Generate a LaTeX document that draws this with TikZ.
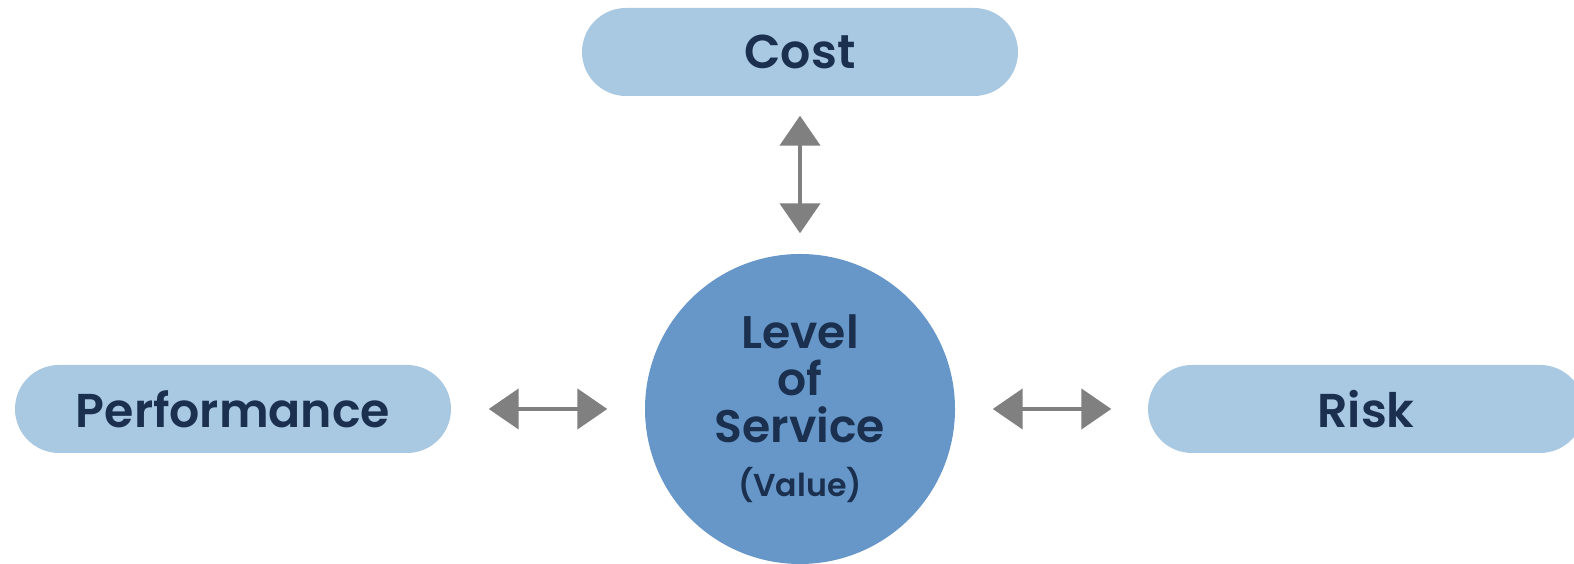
\documentclass[tikz,border=0pt]{standalone}
\usepackage{fontspec}
\setmainfont{Poppins}[BoldFont={Poppins SemiBold}]
\usetikzlibrary{arrows.meta}
\definecolor{pillblue}{HTML}{A9C8E2}
\definecolor{circblue}{HTML}{6697C8}
\definecolor{navy}{HTML}{1B2F4F}
\definecolor{arrgray}{HTML}{808080}

\begin{document}
\begin{tikzpicture}[
    pill/.style={rounded corners=0.44cm,fill=pillblue,minimum width=4.36cm,minimum height=0.88cm,
        text=navy,font=\fontsize{13.5}{16}\selectfont\bfseries},
    lvl/.style={circle,fill=circblue,minimum size=3.1cm,inner sep=0pt,text=navy,align=center,
        font=\fontsize{13}{13.4}\selectfont\bfseries},
    link/.style={arrgray,line width=1.3pt,{Triangle[width=0.4cm,length=0.3cm]}-{Triangle[width=0.4cm,length=0.3cm]}}]
    \useasboundingbox (0,0) rectangle (15.74,5.64);
    \node[pill] (cost) at (8,5.12) {Cost};
    \node[pill] (perf) at (2.33,1.55) {Performance};
    \node[pill] (risk) at (13.66,1.55) {Risk};
    \node[lvl] (los) at (8,1.55) {\raisebox{0pt}[9pt][0pt]{}Level\\of\\Service\\[2pt]
        {\fontsize{9}{10}\selectfont (Value)}};
    
    \draw[link,shorten <=0.19cm,shorten >=0.2cm] (cost) -- (los);
    \draw[link,shorten <=0.37cm,shorten >=0.37cm] (perf) -- (los);
    \draw[link,shorten <=0.37cm,shorten >=0.36cm] (los) -- (risk);
\end{tikzpicture}
\end{document}
